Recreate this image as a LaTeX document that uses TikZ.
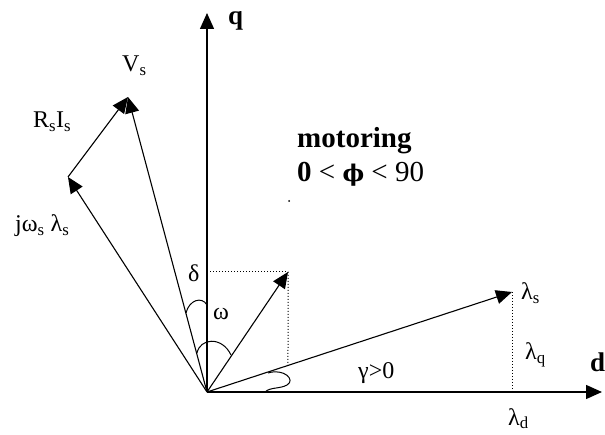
\documentclass[tikz,border=0pt]{standalone}
\usepackage{fontspec}
\setmainfont{Liberation Serif}
\newfontfamily\dvs{DejaVu Serif}
\usetikzlibrary{arrows.meta,calc}
\begin{document}
\begin{tikzpicture}[x=1pt,y=-1pt,
  axis/.style={line width=1.4pt,-{Triangle[length=16pt,width=14pt]}},
  vec/.style={line width=1.1pt,-{Triangle[length=16pt,width=14pt]}},
  guide/.style={line width=1pt,dotted},
  angarc/.style={line width=1pt},
  lbl/.style={font=\fontsize{24}{28}\selectfont,inner sep=0pt,anchor=base west},
  blbl/.style={font=\fontsize{27}{30}\selectfont\bfseries,inner sep=0pt,anchor=base west},
  mlbl/.style={font=\fontsize{29}{34}\selectfont\bfseries,inner sep=0pt,anchor=base west}]
\useasboundingbox (0,0) rectangle (605,435);
% points
\coordinate (O) at (207,392);
\coordinate (Q) at (207,13);
\coordinate (D) at (602,392);
\coordinate (Vs) at (128,97);
\coordinate (J) at (68,177);
\coordinate (Ls) at (512,292);
\coordinate (I) at (288,272);
% axes
\draw[axis] (O) -- (Q);
\draw[axis] (O) -- (D);
% vectors
\draw[vec] (O) -- (J);
\draw[vec] (J) -- (Vs);
\draw[vec] (O) -- (Vs);
\draw[vec] (O) -- (Ls);
\draw[vec] (O) -- (I);
% guide lines
\draw[guide] (O |- I) -- (I);
\draw[guide] (I) -- (intersection of I--{I |- O} and O--Ls);
\draw[guide] (Ls) -- (Ls |- O);
% angle marks
\draw[angarc] (197,353) .. controls (200,338) and (222,336) .. (231,355);
\draw[angarc] (186,313) .. controls (189,300) and (202,296) .. (207,305);
\draw[angarc] (268,373) .. controls (284,368) and (296,380) .. (287,385)
   .. controls (280,389) and (270,387) .. (265,392);
\fill (289,201) circle (1pt);
% labels
\node[lbl] (lVs) at (122,72) {V\textsubscript{s}};
\node[lbl] (lRI) at (33,128) {R\textsubscript{s}I\textsubscript{s}};
\node[lbl] (lJ) at (15,232) {jω\textsubscript{s}\hspace{6pt}λ\textsubscript{s}};
\node[lbl] (lLs) at (521,300) {λ\textsubscript{s}};
\node[lbl] (lLq) at (525,360) {λ\textsubscript{q}};
\node[lbl] (lLd) at (508,425) {λ\textsubscript{d}};
\node[lbl] (ldelta) at (188,282) {δ};
\node[lbl] (lomega) at (213,320) {ω};
\node[lbl] (lgamma) at (358,378) {γ>0};
\node[blbl] (lq) at (228,25) {q};
\node[blbl] (ld) at (590,372) {d};
\node[mlbl] (lmot1) at (297,148) {motoring};
\node[mlbl] (lmot2) at (297,182) {0 {\mdseries<} {\dvs\fontsize{23}{28}\selectfont ϕ} {\mdseries< 90}};
\end{tikzpicture}
\end{document}
